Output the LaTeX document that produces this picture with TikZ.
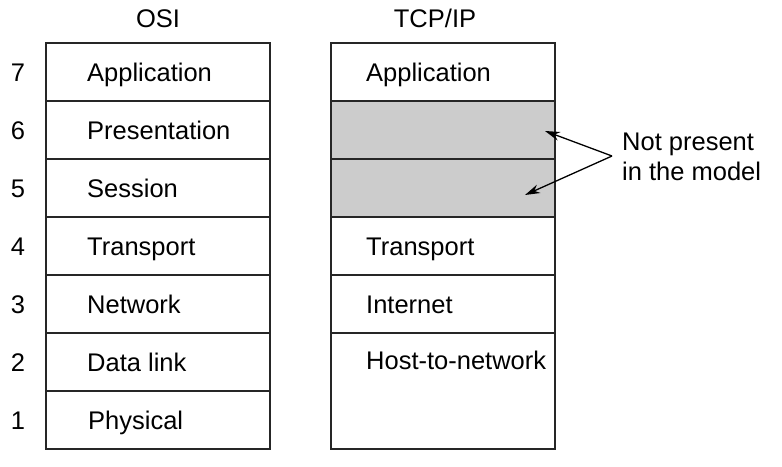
\documentclass[tikz,border=0pt]{standalone}
\usepackage{fontspec}
\setmainfont{Liberation Sans}
\usetikzlibrary{arrows.meta}
\begin{document}
\begin{tikzpicture}[x=1pt,y=-1pt,
  lbl/.style={anchor=base west,inner sep=0pt,font=\fontsize{25.5}{30}\selectfont},
  ttl/.style={anchor=base,inner sep=0pt,font=\fontsize{25.5}{30}\selectfont},
  num/.style={anchor=base,inner sep=0pt,font=\fontsize{25.5}{30}\selectfont},
  boxline/.style={line width=1.5pt,draw=black!85},
  arr/.style={line width=1.3pt,-{Stealth[length=15pt,width=9pt]}}]
\useasboundingbox (0,0) rectangle (782,466);
% grey region
\fill[black!20] (331,101) rectangle (555,217);
% OSI box
\draw[boxline] (46,43) rectangle (270,449);
\foreach \y in {101,159,217,275,333,391} \draw[boxline] (46,\y) -- (270,\y);
% TCP/IP box
\draw[boxline] (331,43) rectangle (555,449);
\foreach \y in {101,159,217,275,333} \draw[boxline] (331,\y) -- (555,\y);
% titles
\node[ttl] (osi) at (158,27) {OSI};
\node[ttl] (tcp) at (435,27) {TCP/IP};
% numbers
\foreach \n/\y in {7/81,6/139,5/197,4/255,3/313,2/371,1/429}
  \node[num] (n\n) at (18,\y) {\n};
% OSI labels
\node[lbl] (oa) at (87,81) {Application};
\node[lbl] (op) at (87,139) {Presentation};
\node[lbl] (os) at (87,197) {Session};
\node[lbl] (ot) at (87,255) {Transport};
\node[lbl] (on) at (87,313) {Network};
\node[lbl] (od) at (87,371) {Data link};
\node[lbl] (oph) at (88,429) {Physical};
% TCP/IP labels
\node[lbl] (ta) at (366,81) {Application};
\node[lbl] (tt) at (366,255) {Transport};
\node[lbl] (ti) at (366,313) {Internet};
\node[lbl] (th) at (366,369) {Host-to-network};
% note
\node[lbl] (np1) at (622,150) {Not present};
\node[lbl] (np2) at (622,180) {in the model};
\coordinate (src) at (612,156);
\coordinate (t1) at (545,131);
\coordinate (t2) at (525,195);
\draw[arr] (src) -- (t1);
\draw[arr] (src) -- (t2);
\end{tikzpicture}
\end{document}
